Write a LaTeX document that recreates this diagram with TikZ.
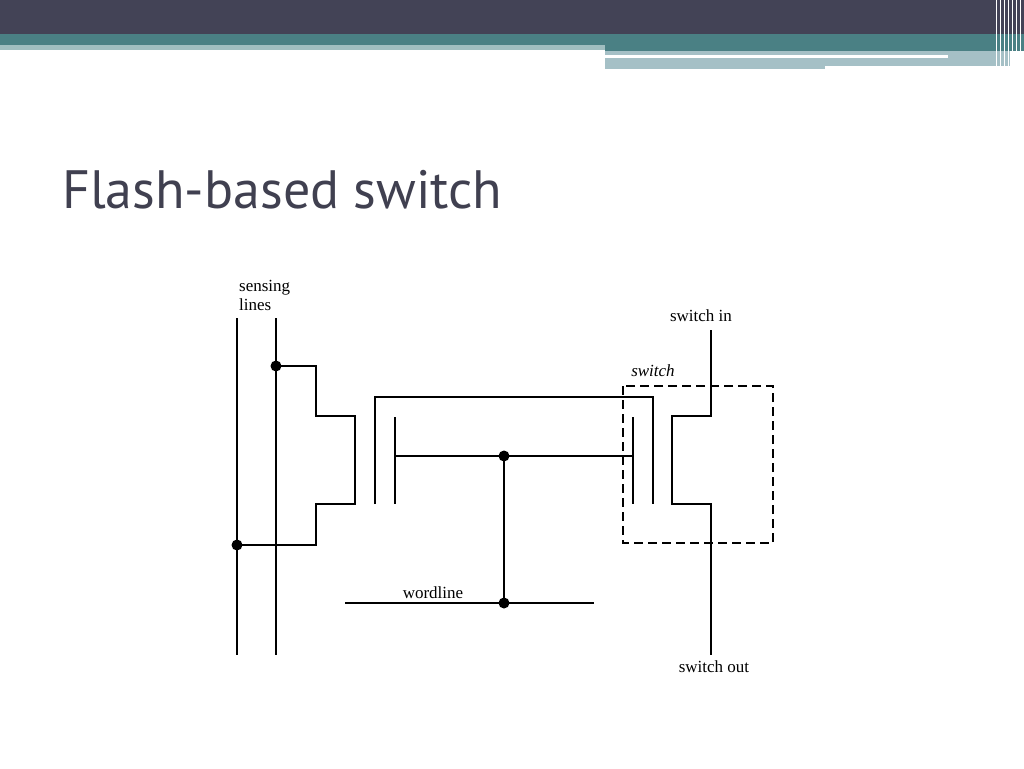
\documentclass[tikz,border=0pt]{standalone}
\usepackage{fontspec}
\setmainfont{Liberation Serif}
\newfontfamily\titlefont{PT Sans}
\begin{document}
\begin{tikzpicture}[x=1pt,y=-1pt,
  w/.style={line width=1.6pt},
  dot/.style={circle,fill=black,inner sep=0pt,minimum size=11pt},
  lbl/.style={font=\fontsize{17}{19}\selectfont,inner sep=0pt}]
\useasboundingbox (0,0) rectangle (1024,768);
\fill[white] (0,0) rectangle (1024,768);
% header
\fill[fill={rgb,255:red,67;green,67;blue,86}] (0,0) rectangle (1024,34);
\fill[fill={rgb,255:red,74;green,128;blue,132}] (0,34) rectangle (1024,45);
\fill[fill={rgb,255:red,160;green,190;blue,192}] (0,45) rectangle (605,50);
\fill[fill={rgb,255:red,74;green,128;blue,132}] (605,45) rectangle (1024,51);
\fill[fill={rgb,255:red,165;green,192;blue,198}] (605,51) rectangle (1010,66);
\fill[white] (605,55) rectangle (948,58);
\fill[fill={rgb,255:red,165;green,192;blue,198}] (605,66) rectangle (825,69);
\foreach \x in {996,1000,1004,1008,1012,1016,1020}
  \draw[white,line width=0.8pt] (\x,0) -- (\x,68);
% title
\node[anchor=base west,inner sep=0pt,text={rgb,255:red,64;green,64;blue,80},font=\titlefont\fontsize{54}{60}\selectfont] (title) at (62,208) {Flash-based switch};
% nodes
\node[dot] (d1) at (276,366) {};
\node[dot] (d2) at (237,545) {};
\node[dot] (d3) at (504,456) {};
\node[dot] (d4) at (504,603) {};
\coordinate (a1) at (237,318); \coordinate (a2) at (237,655);
\coordinate (b1) at (276,318); \coordinate (b2) at (276,655);
\draw[w] (a1) -- (a2);
\draw[w] (b1) -- (b2);
\draw[w] (d1.center) -- (316,366) -- (316,416) -- (355,416) -- (355,504) -- (316,504) -- (316,545) -- (d2.center);
\draw[w] (375,504) -- (375,397) -- (653,397) -- (653,504);
\draw[w] (395,417) -- (395,504);
\draw[w] (633,417) -- (633,504);
\draw[w] (395,456) -- (d3.center) -- (633,456);
\draw[w] (d3.center) -- (d4.center);
\draw[w] (345,603) -- (d4.center) -- (594,603);
\draw[w] (711,330) -- (711,416) -- (672,416) -- (672,504) -- (711,504) -- (711,655);
\draw[w,dash pattern=on 9pt off 5pt] (623,386) rectangle (773,543);
% labels
\node[lbl,anchor=north west,align=left] (sl) at (239,280) {sensing\\lines};
\node[lbl,anchor=base] (si) at (701,321) {switch in};
\node[lbl,anchor=base,font=\fontsize{17}{19}\selectfont\itshape] (sw) at (653,376) {switch};
\node[lbl,anchor=base] (wl) at (433,598) {wordline};
\node[lbl,anchor=base] (so) at (714,672) {switch out};
\end{tikzpicture}
\end{document}
